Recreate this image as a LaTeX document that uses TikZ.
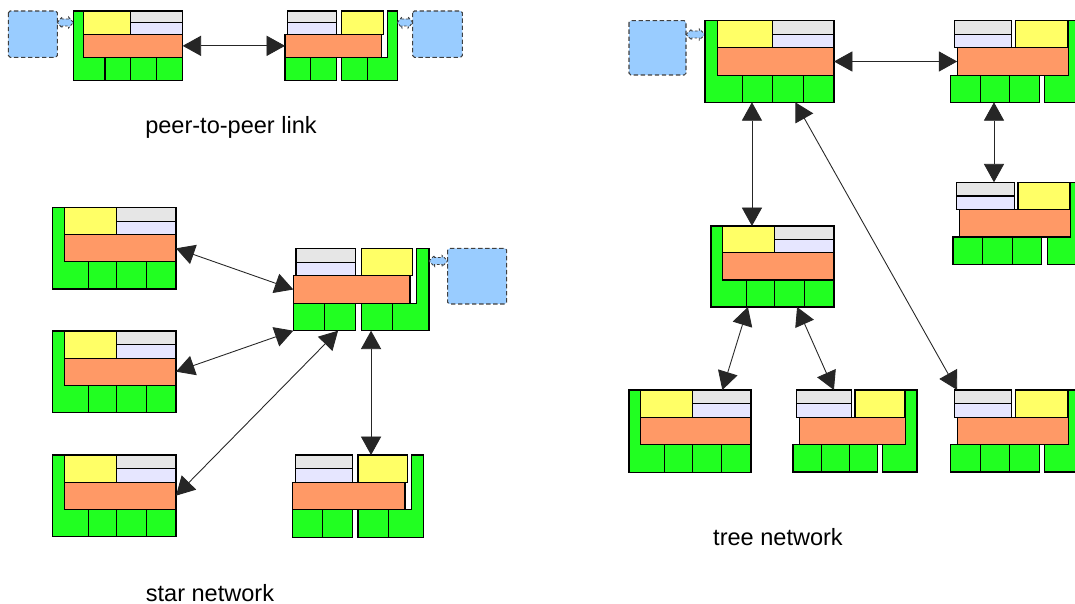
\documentclass[tikz,border=0pt]{standalone}
\usepackage{fontspec}
\setmainfont{Liberation Sans}
\usetikzlibrary{arrows.meta,calc}
\definecolor{cgreen}{RGB}{33,255,33}
\definecolor{cyellow}{RGB}{255,255,102}
\definecolor{cgray}{RGB}{230,230,230}
\definecolor{clav}{RGB}{230,230,255}
\definecolor{corange}{RGB}{255,153,102}
\definecolor{cblue}{RGB}{153,204,255}
\tikzset{
  part/.style={draw=black,line width=0.6pt},
  hostbox/.style={fill=cblue,draw=black!75,line width=0.6pt,dash pattern=on 2.5pt off 1.5pt,rounded corners=1pt},
  plugline/.style={fill=cblue,draw=black!75,line width=0.5pt,dash pattern=on 1.5pt off 1pt},
  link/.style={{Triangle[length=10.5pt,width=11.5pt]}-{Triangle[length=10.5pt,width=11.5pt]},line width=0.5pt,draw=black!85},
  caption/.style={font=\fontsize{13.4}{16}\selectfont},
  lblock/.pic={
    \draw[part,fill=cgreen] (0,0) -- (0.095,0) -- (0.095,0.667) -- (1,0.667) -- (1,1) -- (0,1) -- cycle;
    \draw[part] (0.29,0.667) -- (0.29,1) (0.52,0.667) -- (0.52,1) (0.762,0.667) -- (0.762,1);
    \draw[part,fill=cyellow] (0.095,0) rectangle (0.52,0.333);
    \draw[part,fill=cgray] (0.52,0) rectangle (1,0.167);
    \draw[part,fill=clav] (0.52,0.167) rectangle (1,0.333);
    \draw[part,fill=corange] (0.095,0.333) rectangle (1,0.667);
    \coordinate (-nw) at (0,0); \coordinate (-ne) at (1,0);
    \coordinate (-sw) at (0,1); \coordinate (-se) at (1,1);
    \coordinate (-w) at (0.095,0.5); \coordinate (-e) at (1,0.5);
  },
  rblock/.pic={
    \draw[part,fill=cgray] (0.02,0) rectangle (0.46,0.167);
    \draw[part,fill=clav] (0.02,0.167) rectangle (0.46,0.333);
    \draw[part,fill=cyellow] (0.5,0) rectangle (0.88,0.333);
    \draw[part,fill=corange] (0,0.333) rectangle (0.86,0.667);
    \draw[part,fill=cgreen] (0.91,0) -- (1,0) -- (1,1) -- (0.732,1) -- (0.732,0.667) -- (0.91,0.667) -- cycle;
    \draw[part,fill=cgreen] (0,0.667) rectangle (0.227,1) (0.227,0.667) rectangle (0.46,1) (0.5,0.667) rectangle (0.732,1);
    \coordinate (-nw) at (0,0); \coordinate (-ne) at (1,0);
    \coordinate (-sw) at (0,1); \coordinate (-se) at (1,1);
    \coordinate (-w) at (0,0.5); \coordinate (-e) at (0.86,0.5);
  },
  rblockt/.pic={
    \draw[part,fill=cgray] (0.03,0) rectangle (0.47,0.167);
    \draw[part,fill=clav] (0.03,0.167) rectangle (0.47,0.333);
    \draw[part,fill=cyellow] (0.5,0) rectangle (0.9,0.333);
    \draw[part,fill=corange] (0.05,0.333) rectangle (0.905,0.667);
    \draw[part,fill=cgreen] (0.905,0) -- (1,0) -- (1,1) -- (0.725,1) -- (0.725,0.667) -- (0.905,0.667) -- cycle;
    \draw[part,fill=cgreen] (0,0.667) rectangle (0.228,1) (0.228,0.667) rectangle (0.455,1) (0.455,0.667) rectangle (0.68,1);
    \coordinate (-nw) at (0,0); \coordinate (-ne) at (1,0);
    \coordinate (-sw) at (0,1); \coordinate (-se) at (1,1);
    \coordinate (-w) at (0.05,0.5); \coordinate (-e) at (0.905,0.5);
  },
  plug/.pic={
    \draw[plugline] (0,0) -- (0.3,-5.5) -- (0.3,-3.5) -- (0.7,-3.5) -- (0.7,-5.5) -- (1,0)
      -- (0.7,5.5) -- (0.7,3.5) -- (0.3,3.5) -- (0.3,5.5) -- cycle;
  }
}
\begin{document}
\begin{tikzpicture}[x=0.02cm,y=-0.02cm]
  \clip (0,0) rectangle (1075,604);
  \fill[white] (0,0) rectangle (1075,604);

  \draw[hostbox] (8.3,11) rectangle (57.3,57.3);
  \pic[shift={(57.3,22.5)},xscale=16] {plug};
  \pic[shift={(73.3,11)},xscale=109.4,yscale=69.7] (pa) {lblock};
  \pic[shift={(285,11)},xscale=112.3,yscale=69.7] (pb) {rblock};
  \pic[shift={(397.3,22.5)},xscale=15.4] {plug};
  \draw[hostbox] (412.7,11) rectangle (462.3,57.3);
  \draw[link] (pa-e) -- (pb-w);
  \node[caption] (lbpeer) at (231,127) {peer-to-peer link};

  \pic[shift={(52.3,207.7)},xscale=123.7,yscale=81.3] (s1) {lblock};
  \pic[shift={(52.3,331)},xscale=123.7,yscale=81.3] (s2) {lblock};
  \pic[shift={(52.3,455)},xscale=123.7,yscale=81.3] (s3) {lblock};
  \pic[shift={(293.3,248.3)},xscale=135.7,yscale=82.4] (c) {rblock};
  \pic[shift={(429,261)},xscale=18.7] {plug};
  \draw[hostbox] (447.7,248.3) rectangle (506.7,304);
  \pic[shift={(292.7,455)},xscale=130.6,yscale=82.3] (s4) {rblock};
  \draw[link] (s1-e) -- (c-w);
  \draw[link] (s2-e) -- (c-sw);
  \draw[link] (s3-e) -- ($(c-sw)!0.33!(c-se)$);
  \coordinate (cbot) at ($(c-sw)!0.573!(c-se)$);
  \draw[link] (cbot) -- (cbot |- s4-nw);
  \node[caption] (lbstar) at (210,593) {star network};

  \draw[hostbox] (629,20.7) rectangle (686,75);
  \pic[shift={(686,34.5)},xscale=19] {plug};
  \pic[shift={(705,20.7)},xscale=129,yscale=81.6] (t1) {lblock};
  \pic[shift={(950.7,20.7)},xscale=130,yscale=81.6] (t2) {rblockt};
  \pic[shift={(953,182.3)},xscale=130,yscale=82] (t3) {rblockt};
  \pic[shift={(711,226)},xscale=123,yscale=81] (t4) {lblock};
  \pic[shift={(629,390)},xscale=122,yscale=82.3] (t5) {lblock};
  \pic[shift={(793,390)},xscale=124,yscale=82] (t6) {rblockt};
  \pic[shift={(950.7,390)},xscale=130,yscale=82] (t7) {rblockt};
  \draw[link] (t1-e) -- (t2-w);
  \coordinate (t1a) at ($(t1-sw)!0.364!(t1-se)$);
  \draw[link] (t1a) -- (t1a |- t4-nw);
  \coordinate (t2a) at ($(t2-sw)!0.333!(t2-se)$);
  \draw[link] (t2a) -- (t2a |- t3-nw);
  \draw[link] ($(t1-sw)!0.7!(t1-se)$) -- ($(t7-nw)!0.05!(t7-ne)$);
  \draw[link] ($(t4-sw)!0.3!(t4-se)$) -- ($(t5-nw)!0.765!(t5-ne)$);
  \draw[link] ($(t4-sw)!0.7!(t4-se)$) -- ($(t6-nw)!0.33!(t6-ne)$);
  \node[caption] (lbtree) at (778,537) {tree network};
\end{tikzpicture}
\end{document}
